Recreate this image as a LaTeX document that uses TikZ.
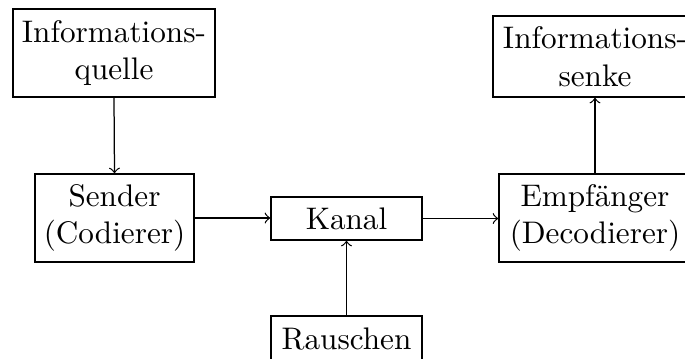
\documentclass[tikz,border=0pt]{standalone}
\usetikzlibrary{arrows}
\begin{document}
\begin{tikzpicture}[x=0.3205pt,y=-0.3205pt,
  box/.style={draw,align=center,inner sep=1pt,anchor=center},
  arr/.style={->}]
\useasboundingbox (0,0) rectangle (685,358);
\begin{scope}
\clip (0,0) rectangle (685,358);
\node[box,minimum width=202*0.3205pt,minimum height=88*0.3205pt] (quelle) at (114,53) {Informations-\\quelle};
\node[box,minimum width=159*0.3205pt,minimum height=88*0.3205pt] (sender) at (114.5,218) {Sender\\(Codierer)};
\node[box,minimum width=151*0.3205pt,minimum height=43*0.3205pt] (kanal) at (346.5,218.5) {Kanal};
\node[box,minimum width=151*0.3205pt,minimum height=46*0.3205pt] (rauschen) at (346.5,339) {Rauschen};
\node[box,minimum width=192*0.3205pt,minimum height=88*0.3205pt] (empf) at (595,218) {Empfänger\\(Decodierer)};
\node[box,minimum width=204*0.3205pt,minimum height=81*0.3205pt] (senke) at (595,56.5) {Informations-\\senke};
\draw[arr] (quelle.south) -- (sender.north);
\draw[arr] (sender.east) -- (sender.east -| kanal.west);
\draw[arr] (kanal.east) -- (kanal.east -| empf.west);
\draw[arr] (rauschen.north) -- (kanal.south);
\draw[arr] (empf.north) -- (senke.south);
\end{scope}
\end{tikzpicture}
\end{document}
